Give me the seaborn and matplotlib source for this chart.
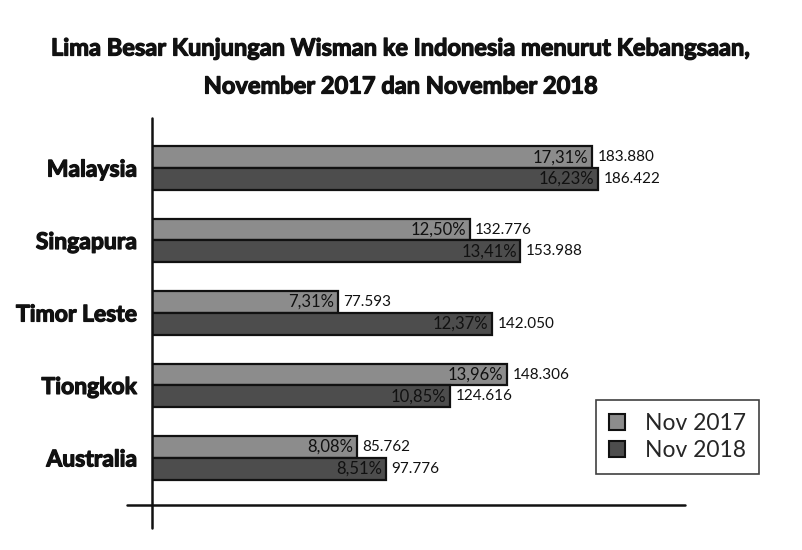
import matplotlib
matplotlib.use("Agg")
import matplotlib.pyplot as plt
import matplotlib.patheffects as pe
import seaborn as sns
import pandas as pd
from matplotlib.patches import Patch

countries = ["Malaysia", "Singapura", "Timor Leste", "Tiongkok", "Australia"]
series = ["Nov 2017", "Nov 2018"]
visits_2017 = [183880, 132776, 77593, 148306, 85762]
visits_2018 = [186422, 153988, 142050, 124616, 97776]
share_2017 = ["17,31%", "12,50%", "7,31%", "13,96%", "8,08%"]
share_2018 = ["16,23%", "13,41%", "12,37%", "10,85%", "8,51%"]
value_2017 = ["183.880", "132.776", "77.593", "148.306", "85.762"]
value_2018 = ["186.422", "153.988", "142.050", "124.616", "97.776"]

df = pd.DataFrame({
    "Negara": countries * 2,
    "Periode": [series[0]] * 5 + [series[1]] * 5,
    "Kunjungan": visits_2017 + visits_2018,
})

sns.set_style("white")
plt.rcParams["font.family"] = ["Lato", "DejaVu Sans"]

colors = {"Nov 2017": "#8c8c8c", "Nov 2018": "#4d4d4d"}
heavy = [pe.withStroke(linewidth=0.9, foreground="#111111")]

fig = plt.figure(figsize=(8.02, 5.50), dpi=100)
W, H = 802, 550
ax = fig.add_axes([152 / W, 1 - 505 / H, (685 - 152) / W, (505 - 118) / H])

sns.barplot(data=df, y="Negara", x="Kunjungan", hue="Periode", order=countries,
            hue_order=series, palette=colors, orient="h", width=0.6, gap=0,
            edgecolor="#111111", linewidth=1.6, ax=ax, legend=False)

ax.set_xlim(0, 222800)
ax.set_ylim(4.65, -0.69)
for s in ax.spines.values():
    s.set_visible(False)
ax.set_xticks([])
ax.set_xlabel("")
ax.set_ylabel("")
ax.tick_params(axis="y", length=0, pad=11)
ax.set_yticks(range(len(countries)))
ax.set_yticklabels(countries, fontsize=16.5, fontweight="bold", color="#111111")
for t in ax.get_yticklabels():
    t.set_path_effects(heavy)

# axis lines (crossing)
ax.plot([0, 0], [1, -23 / 387], transform=ax.transAxes, color="#111111",
        lw=1.8, clip_on=False)
ax.plot([-25 / 533, 1], [0, 0], transform=ax.transAxes, color="#111111",
        lw=1.8, clip_on=False)

labels = [(share_2017, value_2017), (share_2018, value_2018)]
for cont, (shares, vals) in zip(ax.containers, labels):
    for bar, sh, v in zip(cont, shares, vals):
        w = bar.get_width()
        yc = bar.get_y() + bar.get_height() / 2
        ax.annotate(sh, (w, yc), xytext=(-2.5, 0), textcoords="offset points",
                    ha="right", va="center", fontsize=12, color="#111111")
        ax.annotate(v, (w, yc), xytext=(4, 0), textcoords="offset points",
                    ha="left", va="center", fontsize=11, color="#111111")

handles = [Patch(facecolor=colors[s], edgecolor="#111111", linewidth=1.5, label=s)
           for s in series]
leg = fig.legend(handles=handles, loc="upper left",
                 bbox_to_anchor=(596 / W, 1 - 400 / H), borderaxespad=0,
                 fontsize=16.5,
                 frameon=True, fancybox=False, edgecolor="#111111",
                 handlelength=0.7, handleheight=0.7, handletextpad=0.9,
                 borderpad=0.55, labelspacing=0.3)
leg.get_frame().set_linewidth(1.2)
leg._legend_box.sep = 0

t1 = fig.text(0.5, 1 - 48 / H,
              "Lima Besar Kunjungan Wisman ke Indonesia menurut Kebangsaan,",
              ha="center", va="center", fontsize=17, fontweight="bold", color="#111111")
t2 = fig.text(0.5, 1 - 86 / H, "November 2017 dan November 2018",
              ha="center", va="center", fontsize=17, fontweight="bold", color="#111111")
t1.set_path_effects(heavy)
t2.set_path_effects(heavy)

fig.savefig("out.png", dpi=100)
